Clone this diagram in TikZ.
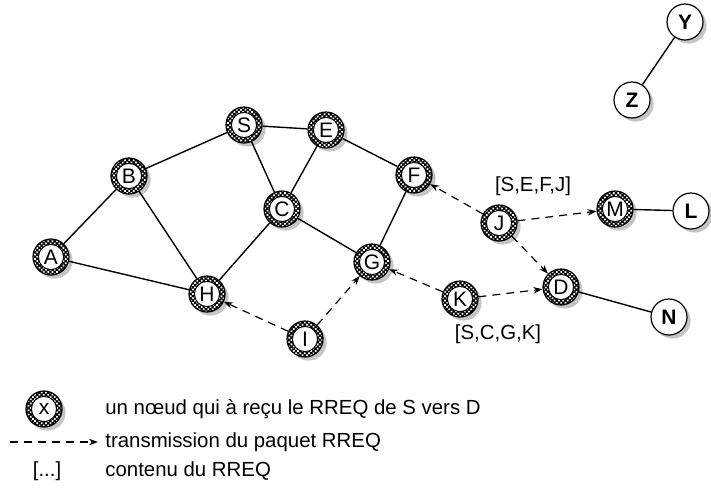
\documentclass[tikz,border=0pt]{standalone}
\usepackage{fontspec}
\setmainfont{Liberation Sans}
\usetikzlibrary{shadows,patterns.meta,arrows.meta}
\tikzset{
  base/.style={circle, draw, line width=0.6pt, minimum size=18pt, inner sep=0pt,
    drop shadow={shadow xshift=1.8pt, shadow yshift=-1.8pt, fill=black!45}},
  rn/.style={base, fill=black, font=\fontsize{10.5}{12}\selectfont,
    path picture={
      \fill[pattern={Dots[radius=0.62pt, distance=1.55pt, angle=45]}, pattern color=white]
        (path picture bounding box.south west) rectangle (path picture bounding box.north east);
      \filldraw[fill=white, draw=black, line width=0.5pt] (path picture bounding box.center) circle (6.3pt);
    }},
  pn/.style={base, fill=white, font=\bfseries\fontsize{10.5}{12}\selectfont},
  edge/.style={line width=0.7pt},
  tx/.style={dash pattern=on 4pt off 3pt, line width=0.6pt, -{Stealth[length=4.5pt,width=3.2pt]}},
  lbl/.style={font=\fontsize{10.2}{12}\selectfont, inner sep=0pt},
  leg/.style={font=\fontsize{10.2}{12}\selectfont, anchor=west, inner sep=0pt}
}
\begin{document}
\begin{tikzpicture}[x=0.5pt, y=-0.5pt]
\useasboundingbox (0,0) rectangle (711,500);
% plain nodes
\node[pn] (Y) at (685,22) {Y};
\node[pn] (Z) at (632,100) {Z};
\node[pn] (L) at (691,211) {L};
\node[pn] (N) at (669,317) {N};
% received nodes
\node[rn] (S) at (244,125) {S};
\node[rn] (E) at (326,130) {E};
\node[rn] (B) at (129,176) {B};
\node[rn] (F) at (414,175) {F};
\node[rn] (C) at (282,209) {C};
\node[rn] (J) at (499,223) {J};
\node[rn] (M) at (615,209) {M};
\node[rn] (A) at (51,257) {A};
\node[rn] (G) at (372,262) {G};
\node[rn] (D) at (561,287) {D};
\node[rn] (K) at (460,299) {K};
\node[rn] (H) at (207,294) {H};
\node[rn] (I) at (305,339) {I};
% solid links
\draw[edge] (Y) -- (Z);
\draw[edge] (S) -- (B);
\draw[edge] (S) -- (E);
\draw[edge] (S) -- (C);
\draw[edge] (E) -- (C);
\draw[edge] (E) -- (F);
\draw[edge] (B) -- (A);
\draw[edge] (B) -- (H);
\draw[edge] (A) -- (H);
\draw[edge] (C) -- (H);
\draw[edge] (C) -- (G);
\draw[edge] (F) -- (G);
\draw[edge] (M) -- (L);
\draw[edge] (D) -- (N);
% transmissions
\draw[tx] (J) -- (F);
\draw[tx] (J) -- (M);
\draw[tx] (J) -- (D);
\draw[tx] (K) -- (G);
\draw[tx] (K) -- (D);
\draw[tx] (I) -- (H);
\draw[tx] (I) -- (G);
% labels
\node[lbl] (l1) at (533,186) {[S,E,F,J]};
\node[lbl] (l2) at (498,334) {[S,C,G,K]};
% legend
\node[rn, font=\fontsize{10.5}{12}\selectfont] (X) at (44,409) {x};
\node[leg] (t1) at (105,409) {un nœud qui à reçu le RREQ de S vers D};
\coordinate (a1) at (10,442);
\coordinate (a2) at (98,442);
\draw[tx] (a1) -- (a2);
\node[leg] (t2) at (105,442) {transmission du paquet RREQ};
\node[lbl] (br) at (47,471) {[...]};
\node[leg] (t3) at (105,471) {contenu du RREQ};
\end{tikzpicture}
\end{document}
